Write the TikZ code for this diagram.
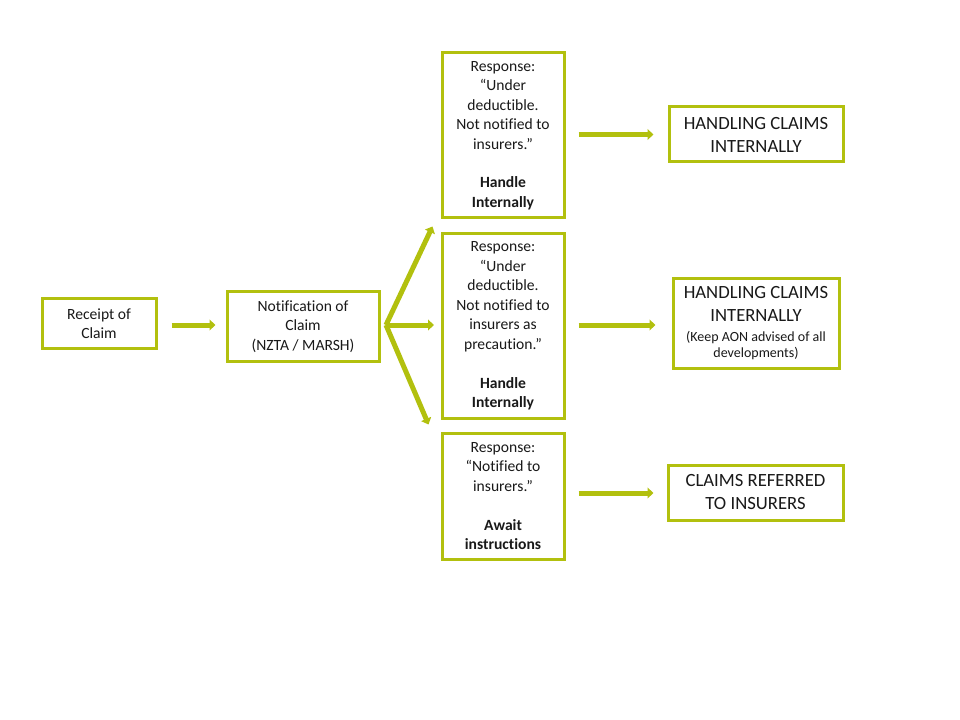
\documentclass[tikz,border=0pt]{standalone}
\usepackage{fontspec}
\setmainfont{Carlito}[Ligatures={TeX,NoCommon}]
\usetikzlibrary{arrows.meta}
\definecolor{olive}{RGB}{178,192,14}
\newcommand{\smalltxt}[1]{{\fontsize{10.5}{12}\selectfont #1}}
\begin{document}
\begin{tikzpicture}[x=0.75pt,y=-0.75pt,
  box/.style={draw=olive,line width=2.25pt,fill=white,align=center,inner sep=0pt,
    font=\fontsize{11.7}{14.6}\selectfont,text=black!90},
  bigbox/.style={box,font=\fontsize{14}{17.25}\selectfont},
  arr/.style={draw=olive,line width=3.75pt,-{Triangle[length=4.5pt,width=8pt]}}]
\useasboundingbox (0,0) rectangle (960,720);
\node[box,minimum width=114*0.75pt,minimum height=49*0.75pt] (rec) at (99,323.5) {Receipt of\\Claim};
\node[box,minimum width=152*0.75pt,minimum height=69*0.75pt] (notif) at (303,326.5) {Notification of\\Claim\\(NZTA / MARSH)};
\node[box,minimum width=122*0.75pt,minimum height=165*0.75pt] (b1) at (503,135.5)
  {Response:\\``Under\\deductible.\\Not notified to\\insurers.''\\[14.6pt]\textbf{Handle}\\\textbf{Internally}};
\node[box,minimum width=122*0.75pt,minimum height=184*0.75pt] (b2) at (503,326)
  {Response:\\``Under\\deductible.\\Not notified to\\insurers as\\precaution.''\\[14.6pt]\textbf{Handle}\\\textbf{Internally}};
\node[box,minimum width=122*0.75pt,minimum height=126*0.75pt] (b3) at (503,496)
  {Response:\\``Notified to\\insurers.''\\[14.6pt]\textbf{Await}\\\textbf{instructions}};
\node[bigbox,minimum width=174*0.75pt,minimum height=55*0.75pt] (r1) at (756,134.5) {HANDLING CLAIMS\\INTERNALLY};
\node[bigbox,minimum width=166*0.75pt,minimum height=89*0.75pt] (r2) at (756,323.5)
  {HANDLING CLAIMS\\INTERNALLY\\[-2.25pt]\smalltxt{(Keep AON advised of all}\\[-5.25pt]\smalltxt{developments)}};
\node[bigbox,minimum width=175*0.75pt,minimum height=55*0.75pt] (r3) at (755.5,492.5) {CLAIMS REFERRED\\TO INSURERS};
\coordinate (fan) at (386,325);
\draw[arr] ([xshift=14*0.75pt]rec.east |- 0,325) -- ([xshift=-10*0.75pt]notif.west |- 0,325);
\draw[arr] (fan) -- ([xshift=-8*0.75pt,yshift=-7*0.75pt]b1.south west);
\draw[arr] (fan) -- (434,325) coordinate (m2);
\draw[arr] (fan) -- ([xshift=-12*0.75pt,yshift=7*0.75pt]b3.north west);
\draw[arr] ([xshift=13*0.75pt]b1.east |- r1.west) -- ([xshift=-14*0.75pt]r1.west);
\draw[arr] ([xshift=13*0.75pt]b2.east |- 0,325) -- ([xshift=-16*0.75pt]r2.west |- 0,325);
\draw[arr] ([xshift=13*0.75pt]b3.east |- 0,493) -- ([xshift=-13*0.75pt]r3.west |- 0,493);
\end{tikzpicture}
\end{document}
